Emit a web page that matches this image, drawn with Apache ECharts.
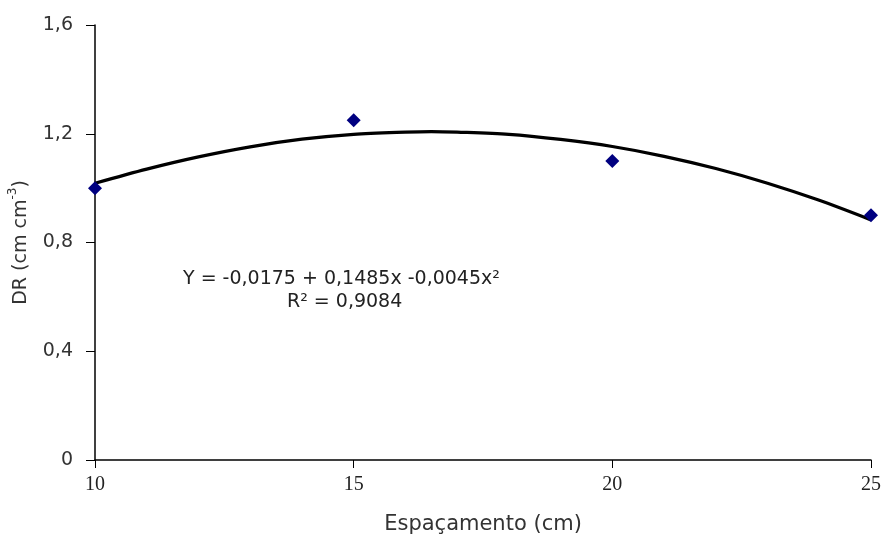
<!DOCTYPE html>
<html>
<head>
<meta charset="utf-8">
<script src="https://cdn.jsdelivr.net/npm/echarts@6/dist/echarts.min.js"></script>
<style>html,body{margin:0;padding:0;background:#fff;}#c{width:882px;height:535px;}</style>
</head>
<body>
<div id="c"></div>
<script>
// Observed data points (Espaçamento cm, DR)
const spacing = [10, 15, 20, 25];
const drValues = [1.0, 1.25, 1.1, 0.9];
// Fitted curve
const curveX = [10, 11, 12, 13, 14, 15, 16, 16.5, 17, 18, 19, 20, 21, 22, 23, 24, 25];
const curveY = [1.018, 1.07, 1.115, 1.152, 1.18, 1.198, 1.206, 1.208, 1.206, 1.198, 1.179, 1.153, 1.117, 1.072, 1.018, 0.955, 0.883];
const xTicks = [10, 15, 20, 25];
const yTicks = [0, 0.4, 0.8, 1.2, 1.6];
const equationText = 'Y = -0,0175 + 0,1485x -0,0045x²';
const r2Text = 'R² = 0,9084';

const sans = '"DejaVu Sans", sans-serif';
const chart = echarts.init(document.getElementById('c'));
chart.setOption({
  animation: false,
  backgroundColor: '#fff',
  grid: { left: 95, right: 11, top: 25, bottom: 75, outerBoundsMode: 'none', containLabel: false },
  xAxis: {
    type: 'value', min: 10, max: 25, interval: 5,
    name: 'Espaçamento (cm)', nameLocation: 'middle', nameGap: 54,
    nameTextStyle: { fontFamily: sans, fontSize: 21, color: '#333' },
    axisLine: { lineStyle: { color: '#000', width: 1.5 } },
    axisTick: { show: true, length: 8, lineStyle: { color: '#000' } },
    axisLabel: { margin: 15, fontFamily: '"Liberation Serif", serif', fontSize: 20, color: '#222',
      formatter: v => xTicks.includes(v) ? String(v) : '' },
    splitLine: { show: false }
  },
  yAxis: {
    type: 'value', min: 0, max: 1.6, interval: 0.4,
    name: '{n|DR (cm cm}{s|-3}{n|)}', nameLocation: 'middle', nameGap: 64, nameRotate: 90,
    nameTextStyle: {
      rich: {
        n: { fontFamily: sans, fontSize: 19, color: '#333', lineHeight: 24, verticalAlign: 'bottom' },
        s: { fontFamily: sans, fontSize: 12, color: '#333', lineHeight: 24, verticalAlign: 'top' }
      }
    },
    axisLine: { show: true, lineStyle: { color: '#000', width: 1.5 } },
    axisTick: { show: true, length: 9, lineStyle: { color: '#000' } },
    axisLabel: { margin: 22, fontFamily: sans, fontSize: 19, color: '#333',
      formatter: v => { const t = yTicks.find(k => Math.abs(k - v) < 1e-9); return t === undefined ? '' : (t === 0 ? '0' : t.toFixed(1).replace('.', ',')); } },
    splitLine: { show: false }
  },
  series: [
    {
      type: 'line', smooth: 0.3, symbol: 'none',
      data: curveX.map((x, i) => [x, curveY[i]]),
      lineStyle: { color: '#000', width: 3.2 }, z: 2
    },
    {
      type: 'scatter', symbol: 'diamond', symbolSize: 14,
      data: spacing.map((x, i) => [x, drValues[i]]),
      itemStyle: { color: '#000080', opacity: 1 }, z: 3
    }
  ],
  graphic: [
    { type: 'text', left: 183, top: 270, style: { text: equationText, font: '19px "DejaVu Sans"', fill: '#222' } },
    { type: 'text', left: 287, top: 293, style: { text: r2Text, font: '19px "DejaVu Sans"', fill: '#222' } }
  ]
});
</script>
</body>
</html>
